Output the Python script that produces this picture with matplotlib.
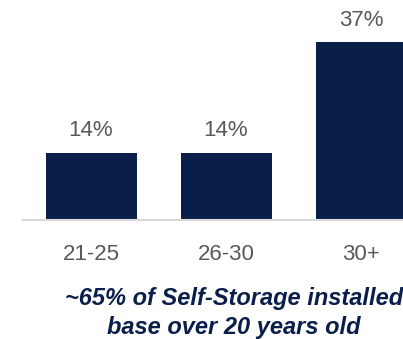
import matplotlib.pyplot as plt

categories = ["21-25", "26-30", "30+"]
values = [14, 14, 37]
labels = ["14%", "14%", "37%"]
caption = "~65% of Self-Storage installed\nbase over 20 years old"

navy = "#0a1e4a"
grey = "#595959"

plt.rcParams["font.family"] = ["Liberation Sans", "DejaVu Sans"]

fig = plt.figure(figsize=(4.03, 3.39), dpi=100)
ax = fig.add_axes([23 / 403, 119 / 339, 380 / 403, 220 / 339])

x = range(len(categories))
bars = ax.bar(x, values, width=0.674, color=navy)
for b, lab in zip(bars, labels):
    ax.annotate(lab, (b.get_x() + b.get_width() / 2, b.get_height()),
                xytext=(0, 12), textcoords="offset points",
                ha="center", va="baseline", fontsize=16, color=grey)

ax.set_xlim(-0.504, 2.311)
ax.set_ylim(0, 45.8)
for s in ["top", "right", "left"]:
    ax.spines[s].set_visible(False)
ax.spines["bottom"].set_color("#d9d9d9")
ax.spines["bottom"].set_linewidth(1.5)
ax.set_yticks([])
ax.set_xticks(list(x))
ax.set_xticklabels(categories, fontsize=16, color=grey)
ax.tick_params(axis="x", length=0, pad=17)

fig.text(234 / 403, 1 - 313 / 339, caption, ha="center", va="center",
         fontsize=17, fontweight="bold", fontstyle="italic", color=navy,
         linespacing=1.3)

fig.savefig("out.png", dpi=100)
